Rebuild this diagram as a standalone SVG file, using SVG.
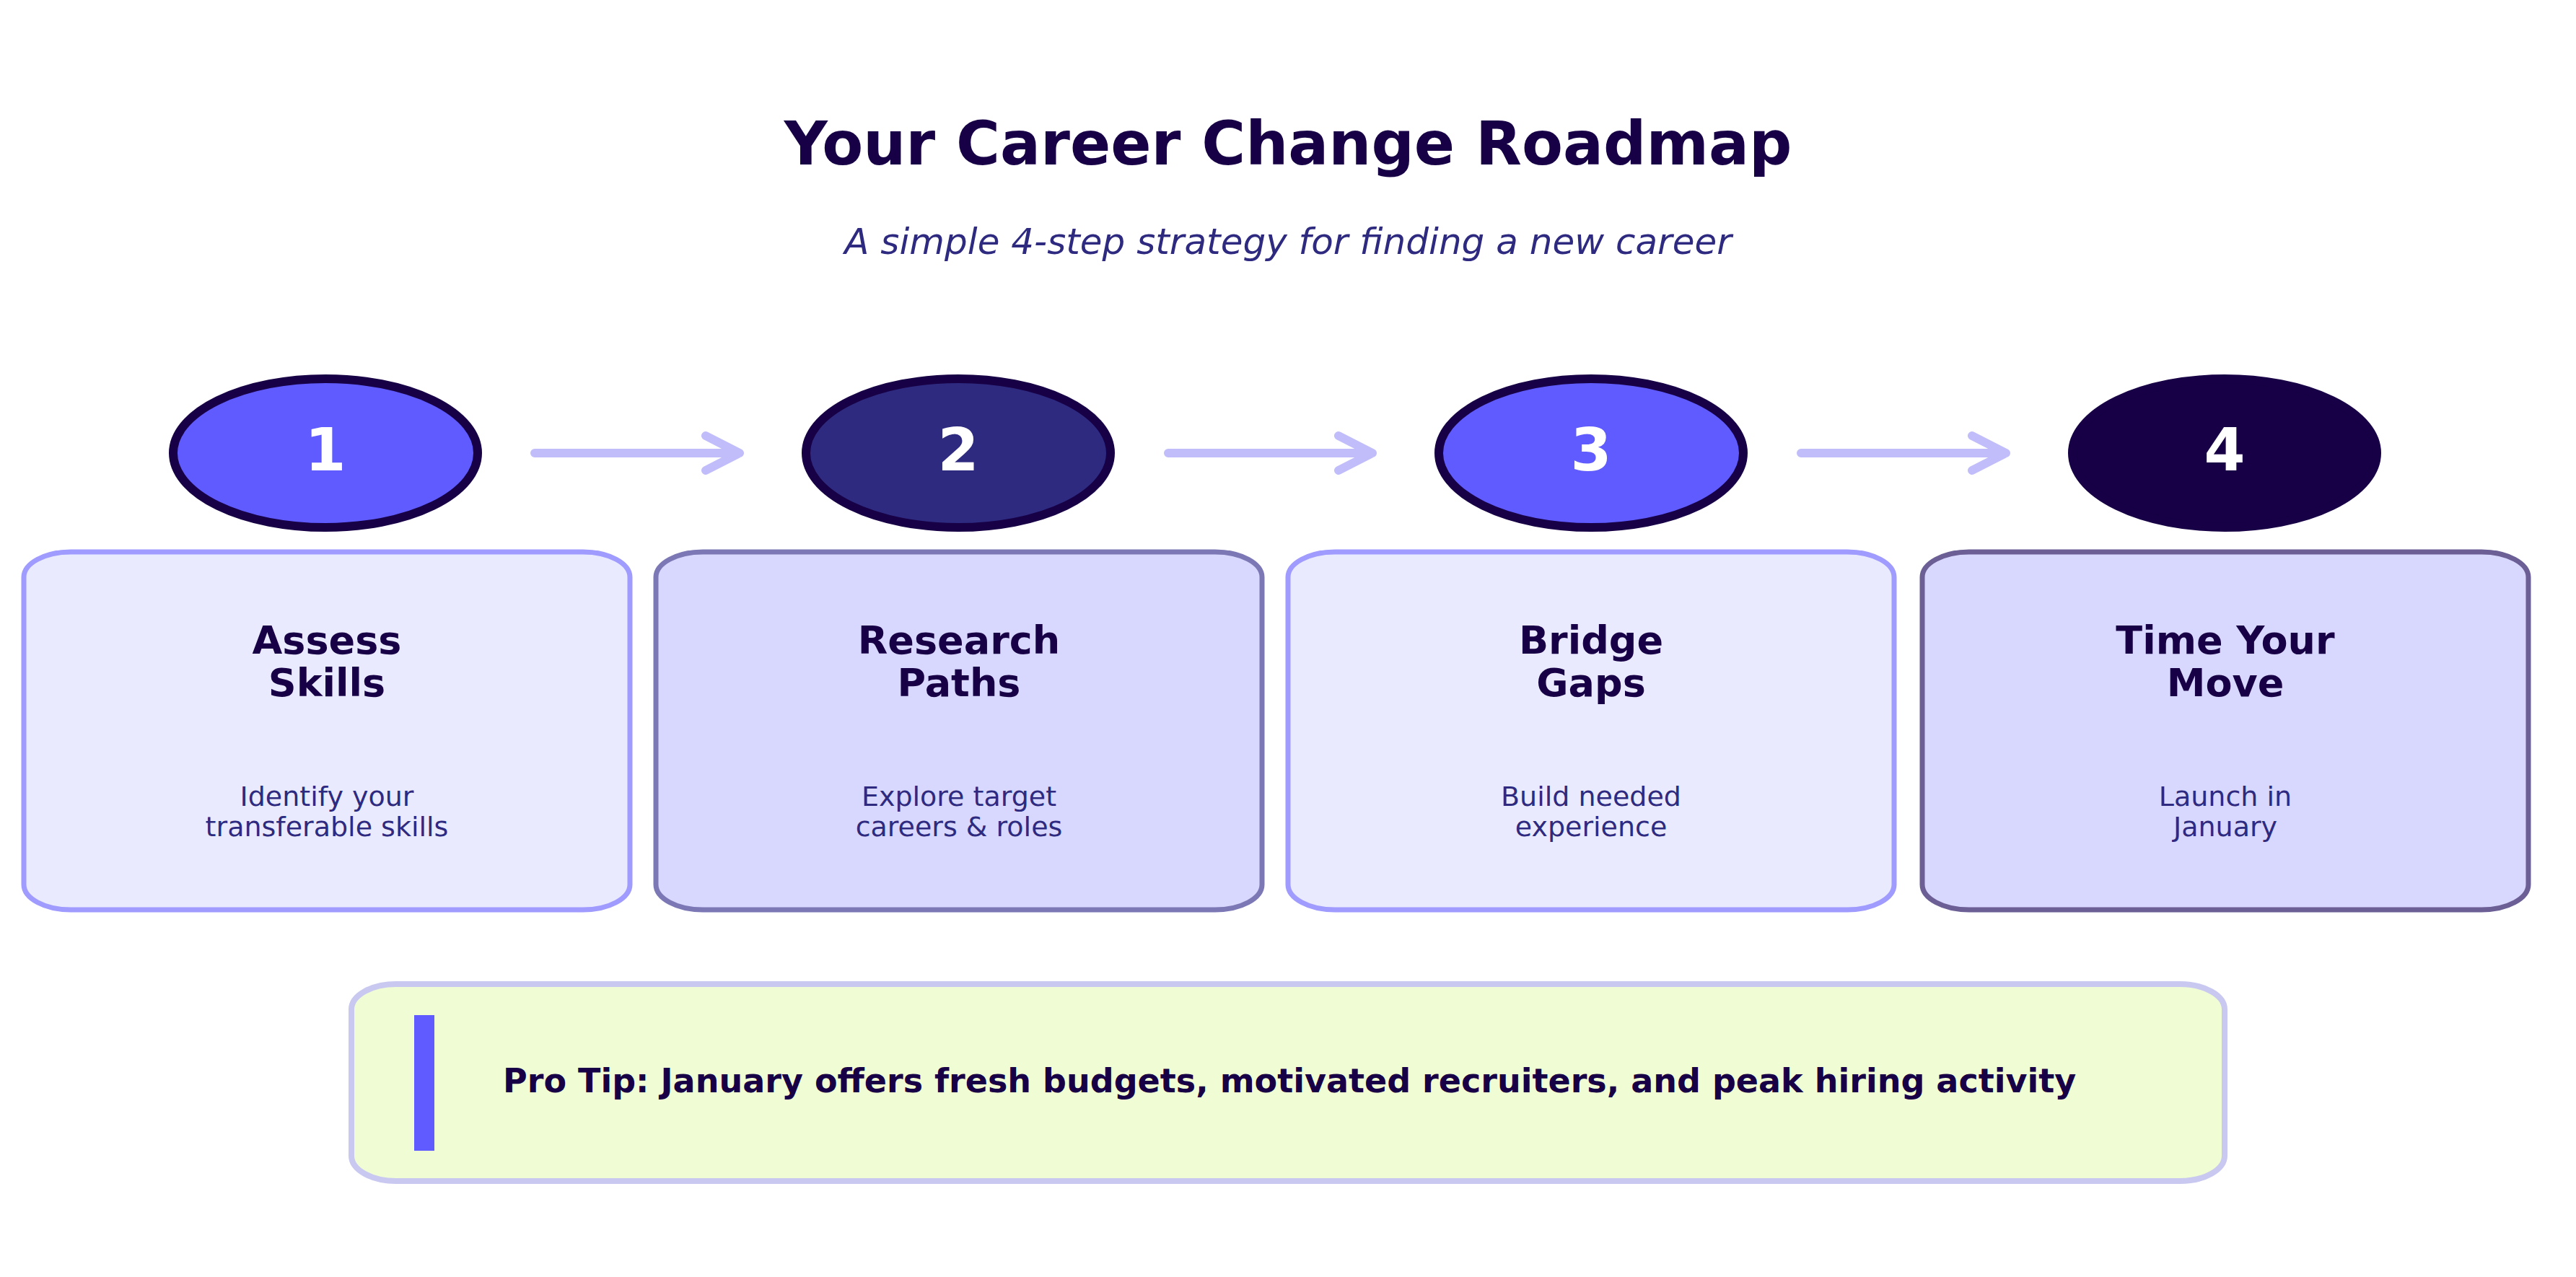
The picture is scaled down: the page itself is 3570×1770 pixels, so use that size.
<svg xmlns="http://www.w3.org/2000/svg" width="3570" height="1770" viewBox="0 0 3570 1770">
<defs>
<style>
.title{font-family:"DejaVu Sans",sans-serif;font-weight:bold;font-size:83px;fill:#170045;text-anchor:middle}
.sub{font-family:"DejaVu Sans",sans-serif;font-style:italic;font-size:50px;fill:#2e2a80;text-anchor:middle}
.num{font-family:"DejaVu Sans",sans-serif;font-weight:bold;font-size:82px;fill:#ffffff;text-anchor:middle}
.bt{font-family:"DejaVu Sans",sans-serif;font-weight:bold;font-size:54px;fill:#170045;text-anchor:middle}
.bd{font-family:"DejaVu Sans",sans-serif;font-size:38px;fill:#2e2a80;text-anchor:middle}
.tip{font-family:"DejaVu Sans",sans-serif;font-weight:bold;font-size:46px;fill:#170045}
.conn{fill:none;stroke:#c0bdfa;stroke-width:12;stroke-linecap:round;stroke-linejoin:round}
.e{stroke:#170045;stroke-width:12}
.lightbox{fill:#eaeaff;stroke:#9f9bff;stroke-width:7}
</style>
</defs>
<rect width="3570" height="1770" fill="#ffffff"/>
<text class="title" x="1785" y="228">Your Career Change Roadmap</text>
<text class="sub" x="1785" y="352">A simple 4-step strategy for finding a new career</text>

<g id="connectors">
<path class="conn" d="M741 628 H1025 M978 604 L1025 628 L978 652"/>
<path class="conn" d="M1619 628 H1902 M1855 604 L1902 628 L1855 652"/>
<path class="conn" d="M2496 628 H2780 M2733 604 L2780 628 L2733 652"/>
</g>

<g id="step1">
<ellipse class="e" cx="451" cy="628" rx="211" ry="103" fill="#5f5bff"/>
<text class="num" x="451" y="652">1</text>
<rect class="lightbox" x="33" y="765" width="840" height="496" rx="65" ry="35"/>
<text class="bt" x="453" y="906">Assess</text>
<text class="bt" x="453" y="965">Skills</text>
<text class="bd" x="453" y="1117">Identify your</text>
<text class="bd" x="453" y="1159">transferable skills</text>
</g>

<g id="step2">
<ellipse class="e" cx="1328" cy="628" rx="211" ry="103" fill="#2e2a80"/>
<text class="num" x="1328" y="652">2</text>
<rect x="909" y="765" width="840" height="496" rx="65" ry="35" fill="#d8d7fd" stroke="#7c78b6" stroke-width="7"/>
<text class="bt" x="1329" y="906">Research</text>
<text class="bt" x="1329" y="965">Paths</text>
<text class="bd" x="1329" y="1117">Explore target</text>
<text class="bd" x="1329" y="1159">careers &amp; roles</text>
</g>

<g id="step3">
<ellipse class="e" cx="2205" cy="628" rx="211" ry="103" fill="#5f5bff"/>
<text class="num" x="2205" y="652">3</text>
<rect class="lightbox" x="1785" y="765" width="840" height="496" rx="65" ry="35"/>
<text class="bt" x="2205" y="906">Bridge</text>
<text class="bt" x="2205" y="965">Gaps</text>
<text class="bd" x="2205" y="1117">Build needed</text>
<text class="bd" x="2205" y="1159">experience</text>
</g>

<g id="step4">
<ellipse class="e" cx="3083" cy="628" rx="211" ry="103" fill="#170045"/>
<text class="num" x="3083" y="652">4</text>
<rect x="2664" y="765" width="840" height="496" rx="65" ry="35" fill="#d8d7fd" stroke="#6b5f96" stroke-width="7"/>
<text class="bt" x="3084" y="906">Time Your</text>
<text class="bt" x="3084" y="965">Move</text>
<text class="bd" x="3084" y="1117">Launch in</text>
<text class="bd" x="3084" y="1159">January</text>
</g>

<g id="protip">
<rect x="487" y="1364" width="2596" height="273" rx="62" ry="35" fill="#f0fdd4" stroke="#c8c8f0" stroke-width="8"/>
<rect x="574" y="1407" width="28" height="188" fill="#5f5bff"/>
<text class="tip" x="697" y="1514">Pro Tip: January offers fresh budgets, motivated recruiters, and peak hiring activity</text>
</g>
</svg>
